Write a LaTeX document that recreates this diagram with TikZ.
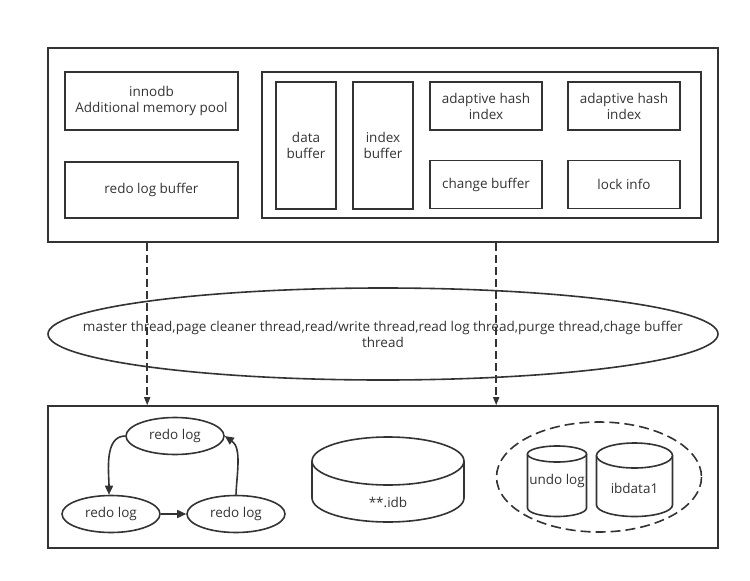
\documentclass[tikz,border=0pt]{standalone}
\usepackage{fontspec}
\setmainfont{Open Sans}
\usepackage{xcolor}
\usepackage{tikz}
\usetikzlibrary{positioning,calc,arrows.meta,shapes.geometric}
\definecolor{inkgray}{HTML}{333333}

\begin{document}
\begin{tikzpicture}[
	x=1pt, y=-1pt,
	box/.style={rectangle, draw=inkgray, line width=1.6pt, inner sep=0pt, align=center, text=inkgray, font=\fontsize{13.5}{16}\selectfont},
	logstate/.style={ellipse, draw=inkgray, line width=1.6pt, inner sep=0pt, minimum width=98pt, minimum height=37pt, text=inkgray, font=\fontsize{13.5}{16}\selectfont},
	cyl/.style={draw=inkgray, line width=1.6pt, fill=white},
	labeltext/.style={text=inkgray, font=\fontsize{13.5}{16}\selectfont, inner sep=0pt, align=center},
	arrow/.style={-{Triangle[length=9pt,width=8pt]}, inkgray, line width=1.6pt},
	flow/.style={-{Triangle[length=8pt,width=6pt]}, inkgray, line width=1.6pt, dash pattern=on 8pt off 4pt}
	]
	\useasboundingbox (0,0) rectangle (750,581);

	% ===== MEMORY =====
	\node[box, minimum width=670pt, minimum height=194pt] (mem) at (383,145) {};
	\node[box, minimum width=173pt, minimum height=58pt] (extra) at (151.5,101) {innodb\\Additional memory pool};
	\node[box, minimum width=173pt, minimum height=56pt] (redobuf) at (151.5,190) {redo log buffer};

	% ===== BUFFER POOL =====
	\node[box, minimum width=439pt, minimum height=146pt] (pool) at (481.5,145) {};
	\node[box, minimum width=60pt, minimum height=127pt] (databuf) at (306,145.5) {data\\buffer};
	\node[box, minimum width=60pt, minimum height=127pt] (indexbuf) at (383,145.5) {index\\buffer};
	\node[box, minimum width=112pt, minimum height=48pt] (hashA) at (486,106) {adaptive hash\\index};
	\node[box, minimum width=112pt, minimum height=48pt] (hashB) at (624,106) {adaptive hash\\index};
	\node[box, minimum width=112pt, minimum height=48pt] (changebuf) at (486,184.5) {change buffer};
	\node[box, minimum width=112pt, minimum height=48pt] (lockinfo) at (624,184.5) {lock info};

	% ===== THREADS =====
	\node[box, ellipse, minimum width=670pt, minimum height=92pt,
		label={[labeltext]center:master thread,page cleaner thread,read/write thread,read log thread,purge thread,chage buffer\\thread}]
		(threads) at (383,334) {};

	% ===== DISK =====
	\node[box, minimum width=670pt, minimum height=142pt] (disk) at (383,477) {};

	\draw[flow] ([xshift=100pt]mem.south west) -- ([xshift=100pt]disk.north west);
	\draw[flow] ([xshift=449pt]mem.south west) -- ([xshift=449pt]disk.north west);

	% ===== REDO LOG RING =====
	\node[logstate] (redoA) at (175,436) {redo log};
	\node[logstate] (redoB) at (111,514) {redo log};
	\node[logstate] (redoC) at (236,514) {redo log};

	\draw[arrow] (redoA.west) to[out=180, in=90, looseness=0.9] ([xshift=-2pt]redoB.north);
	\draw[arrow] (redoB.east) -- (redoC.west);
	\draw[arrow] (redoC.north) to[out=88, in=-35, looseness=0.9] (redoA.east);

	% ===== TABLESPACE FILES =====
	\draw[cyl] (312,461) -- (312,498) arc[start angle=180, end angle=0, x radius=76, y radius=24] -- (464,461);
	\draw[cyl] (388,461) ellipse [x radius=76, y radius=24];
	\node[labeltext] (idb) at (388,502) {**.idb};

	\draw[inkgray, line width=1.6pt, dash pattern=on 10pt off 5pt] (599,477) ellipse [x radius=102.5, y radius=55];

	\draw[cyl] (527.5,454) -- (527.5,508) arc[start angle=180, end angle=0, x radius=29.5, y radius=8.5] -- (586.5,454);
	\draw[cyl] (557,454) ellipse [x radius=29.5, y radius=8];
	\node[labeltext] (undo) at (557,481) {undo log};

	\draw[cyl] (596.5,455.5) -- (596.5,505) arc[start angle=180, end angle=0, x radius=38, y radius=11.5] -- (672.5,455.5);
	\draw[cyl] (634.5,455.5) ellipse [x radius=38, y radius=12.5];
	\node[labeltext] (ibdata) at (634.5,488) {ibdata1};
\end{tikzpicture}
\end{document}
